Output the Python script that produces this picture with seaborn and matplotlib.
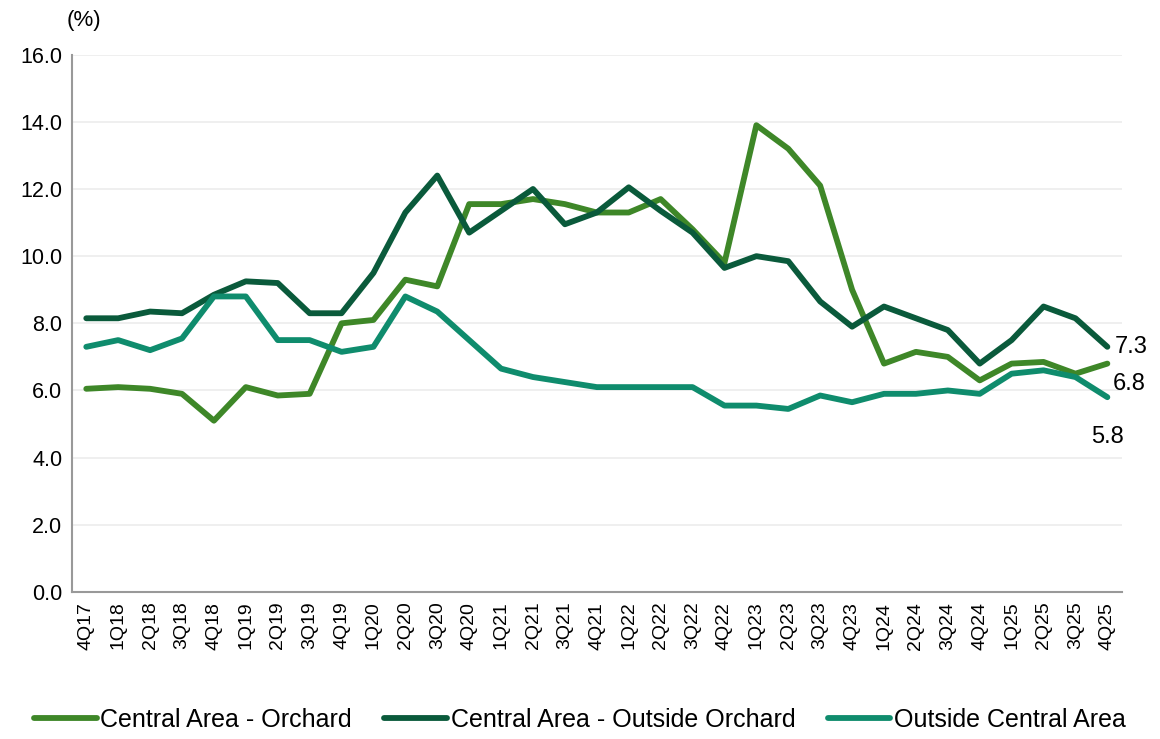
import numpy as np
import pandas as pd
import matplotlib
matplotlib.use("Agg")
import matplotlib.pyplot as plt
import seaborn as sns

# quarters on the x axis
quarters = ['4Q17', '1Q18', '2Q18', '3Q18', '4Q18', '1Q19', '2Q19', '3Q19', '4Q19',
            '1Q20', '2Q20', '3Q20', '4Q20', '1Q21', '2Q21', '3Q21', '4Q21',
            '1Q22', '2Q22', '3Q22', '4Q22', '1Q23', '2Q23', '3Q23', '4Q23',
            '1Q24', '2Q24', '3Q24', '4Q24', '1Q25', '2Q25', '3Q25', '4Q25']

# vacancy rates (%)
orchard = [6.05, 6.1, 6.05, 5.9, 5.1, 6.1, 5.85, 5.9, 8.0, 8.1, 9.3, 9.1, 11.55,
           11.55, 11.7, 11.55, 11.3, 11.3, 11.7, 10.8, 9.8, 13.9, 13.2, 12.1, 9.0,
           6.8, 7.15, 7.0, 6.3, 6.8, 6.85, 6.5, 6.8]
outside_orchard = [8.15, 8.15, 8.35, 8.3, 8.85, 9.25, 9.2, 8.3, 8.3, 9.5, 11.3, 12.4,
                   10.7, 11.35, 12.0, 10.95, 11.3, 12.05, 11.35, 10.7, 9.65, 10.0, 9.85,
                   8.65, 7.9, 8.5, 8.15, 7.8, 6.8, 7.5, 8.5, 8.15, 7.3]
outside_central = [7.3, 7.5, 7.2, 7.55, 8.8, 8.8, 7.5, 7.5, 7.15, 7.3, 8.8, 8.35, 7.5,
                   6.65, 6.4, 6.25, 6.1, 6.1, 6.1, 6.1, 5.55, 5.55, 5.45, 5.85, 5.65,
                   5.9, 5.9, 6.0, 5.9, 6.5, 6.6, 6.4, 5.8]

series_names = ['Central Area - Orchard', 'Central Area - Outside Orchard', 'Outside Central Area']
colors = ['#3e8728', '#0a5a3b', '#0f8c6d']

df = pd.DataFrame({
    'quarter': quarters * 3,
    'idx': list(range(len(quarters))) * 3,
    'value': orchard + outside_orchard + outside_central,
    'series': [s for s in series_names for _ in quarters],
})

sns.set_theme(style='white')
plt.rcParams['font.family'] = ['Liberation Sans', 'DejaVu Sans']
plt.rcParams['text.color'] = 'black'
plt.rcParams['xtick.color'] = 'black'
plt.rcParams['ytick.color'] = 'black'

fig = plt.figure(figsize=(11.6, 7.39), dpi=100)
ax = fig.add_axes([0.062, 0.199, 0.905, 0.727])

sns.lineplot(data=df, x='idx', y='value', hue='series', hue_order=series_names,
             palette=colors, linewidth=4.2, ax=ax, legend=False)

ax.set_xlim(-0.45, len(quarters) - 0.55)
ax.set_ylim(0, 16)
ax.set_yticks(np.arange(0, 16.1, 2))
ax.set_yticklabels([f'{v:.1f}' for v in np.arange(0, 16.1, 2)], fontsize=15.5)
ax.set_xticks(range(len(quarters)))
ax.set_xticklabels(quarters, rotation=90, fontsize=14)
ax.tick_params(axis='both', length=0, pad=7)
ax.set_xlabel('')
ax.set_ylabel('')

ax.grid(axis='y', color='#ececec', linewidth=1.2)
ax.set_axisbelow(True)
for s in ['top', 'right']:
    ax.spines[s].set_visible(False)
for s in ['left', 'bottom']:
    ax.spines[s].set_color('#999999')
    ax.spines[s].set_linewidth(1.5)

ax.text(-0.005, 1.045, '(%)', transform=ax.transAxes, fontsize=16, ha='left', va='bottom')

# end labels
last = len(quarters) - 1
ax.annotate(f'{outside_orchard[-1]:.1f}', (last, outside_orchard[-1]), xytext=(5, 0),
            textcoords='offset points', fontsize=17, va='center')
ax.annotate(f'{orchard[-1]:.1f}', (last, orchard[-1]), xytext=(4, -15),
            textcoords='offset points', fontsize=17, va='center')
ax.annotate(f'{outside_central[-1]:.1f}', (last, outside_central[-1]), xytext=(0, -29),
            textcoords='offset points', fontsize=17, va='center', ha='center')

handles = [plt.Line2D([0], [0], color=c, linewidth=4.2) for c in colors]
fig.legend(handles, series_names, loc='center', ncol=3, frameon=False,
           fontsize=18, handlelength=2.5, handletextpad=0.15, columnspacing=1.3,
           bbox_to_anchor=(0.5, 0.026))

fig.savefig('out.png', dpi=100)
